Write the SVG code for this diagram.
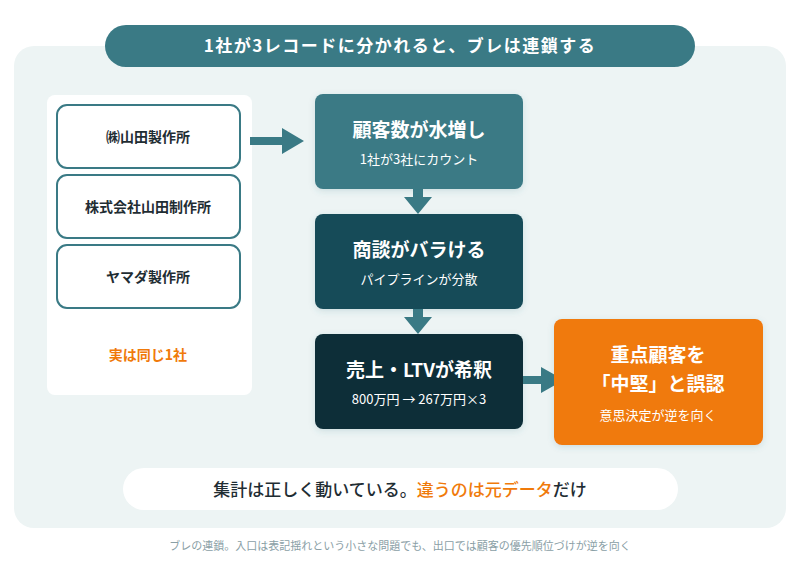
<svg xmlns="http://www.w3.org/2000/svg" width="800" height="574" viewBox="0 0 800 574">
<defs>
<style>
text{font-family:"Noto Sans CJK JP","Noto Sans",sans-serif;text-anchor:middle}
.lb{fill:#fff;stroke:#3a7a85;stroke-width:2}
.lt{font-size:14px;font-weight:bold;fill:#1f2d33}
.nt{font-size:19px;font-weight:bold;fill:#fff}
.ns{font-size:13px;fill:#fff}
.ar{fill:#3a7a85}
</style>
<filter id="sh" x="-10%" y="-10%" width="120%" height="130%"><feDropShadow dx="0" dy="2" stdDeviation="3" flood-color="#3a7a85" flood-opacity="0.18"/></filter>
</defs>
<rect width="800" height="574" fill="#fff"/>
<rect x="14" y="46" width="772" height="482" rx="20" fill="#edf4f4"/>
<g id="title"><rect x="105" y="25" width="590" height="42" rx="21" fill="#3a7a85"/>
<text x="400" y="52" style="font-size:17px;font-weight:bold;fill:#fff;letter-spacing:1.5px">1社が3レコードに分かれると、ブレは連鎖する</text></g>
<rect x="47" y="95" width="205" height="300" rx="8" fill="#fff"/>
<g id="rec1"><rect class="lb" x="57" y="105" width="183" height="63" rx="10"/><text class="lt" x="148" y="142">㈱山田製作所</text></g>
<g id="rec2"><rect class="lb" x="57" y="175" width="183" height="63" rx="10"/><text class="lt" x="148" y="212">株式会社山田制作所</text></g>
<g id="rec3"><rect class="lb" x="57" y="245" width="183" height="63" rx="10"/><text class="lt" x="148" y="282">ヤマダ製作所</text></g>
<text x="148" y="360" style="font-size:14px;font-weight:bold;fill:#f07a0a">実は同じ1社</text>
<g id="connectors">
<path class="ar" d="M250 137H282V128L304 141L282 154V145H250Z"/>
<path class="ar" d="M413 189H423V197L432 197L418 214L404 197H413Z"/>
<path class="ar" d="M413 309H423V317L432 317L418 334L404 317H413Z"/>
<path class="ar" d="M523 376H541V367L564 380L541 393V384H523Z"/>
</g>
<g id="n1"><rect x="315" y="94" width="208" height="95" rx="8" fill="#3a7a85" filter="url(#sh)"/><text class="nt" x="419" y="137">顧客数が水増し</text><text class="ns" x="419" y="164">1社が3社にカウント</text></g>
<g id="n2"><rect x="315" y="214" width="208" height="95" rx="8" fill="#174b59" filter="url(#sh)"/><text class="nt" x="419" y="257">商談がバラける</text><text class="ns" x="419" y="284">パイプラインが分散</text></g>
<g id="n3"><rect x="315" y="334" width="208" height="95" rx="8" fill="#0a2e38" filter="url(#sh)"/><text class="nt" x="419" y="377">売上・LTVが希釈</text><text class="ns" x="419" y="404">800万円 → 267万円×3</text></g>
<g id="n4"><rect x="554" y="319" width="209" height="126" rx="8" fill="#f07a0a" filter="url(#sh)"/><text class="nt" x="658" y="362">重点顧客を</text><text class="nt" x="658" y="391">「中堅」と誤認</text><text class="ns" x="658" y="420">意思決定が逆を向く</text></g>
<g id="note"><rect x="123" y="468" width="555" height="42" rx="21" fill="#fff"/>
<text x="400" y="496" style="font-size:17px;font-weight:500;fill:#1f2d33">集計は正しく動いている。<tspan fill="#f07a0a">違うのは元データ</tspan>だけ</text></g>
<text x="400" y="550" style="font-size:11px;fill:#8aa0a6">ブレの連鎖。入口は表記揺れという小さな問題でも、出口では顧客の優先順位づけが逆を向く</text>
</svg>
